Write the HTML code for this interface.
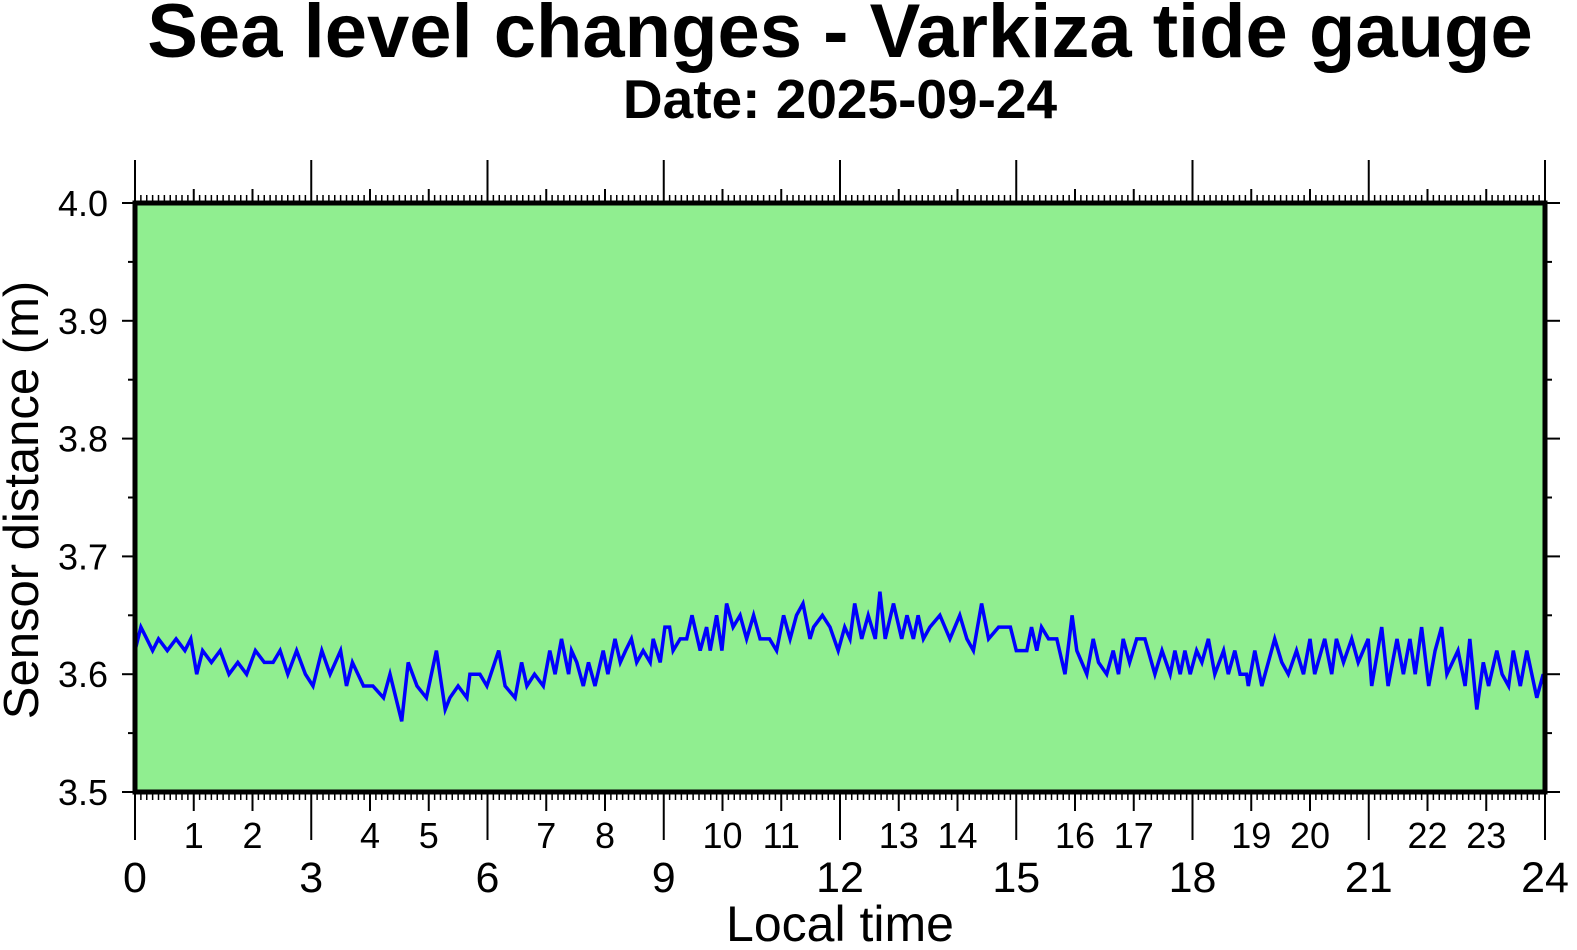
<!DOCTYPE html>
<html><head><meta charset="utf-8"><style>
html,body{margin:0;padding:0;background:#fff;}
svg{display:block;font-family:"Liberation Sans",Arial,sans-serif;}
</style></head><body>
<svg id="chart" width="1577" height="950" viewBox="0 0 1577 950" xmlns="http://www.w3.org/2000/svg">
<text x="840" y="57" font-size="76" font-weight="bold" text-anchor="middle">Sea level changes - Varkiza tide gauge</text>
<text x="840" y="118" font-size="55" font-weight="bold" text-anchor="middle">Date: 2025-09-24</text>
<rect x="135" y="203" width="1410" height="589" fill="#90ee90"/>
<g id="axes"></g>
<polyline id="series" fill="none" stroke="#0000ff" stroke-width="3.5" stroke-linejoin="miter"/>
<rect x="135" y="203" width="1410" height="589" fill="none" stroke="#000" stroke-width="5"/>
<text x="840" y="941" font-size="50" text-anchor="middle">Local time</text>
<text x="0" y="0" font-size="49" text-anchor="middle" transform="translate(38,500) rotate(-90)">Sensor distance (m)</text>
</svg>
<script>
const hours = [0,0.1,0.2,0.3,0.4,0.55,0.7,0.85,0.95,1.05,1.15,1.3,1.45,1.6,1.75,1.9,2.05,2.2,2.35,2.47,2.6,2.75,2.9,3.03,3.18,3.32,3.5,3.6,3.7,3.89,4.05,4.23,4.34,4.54,4.65,4.8,4.96,5.13,5.28,5.36,5.5,5.65,5.7,5.87,5.99,6.19,6.3,6.47,6.58,6.67,6.8,6.95,7.06,7.15,7.26,7.38,7.43,7.52,7.63,7.72,7.83,7.97,8.05,8.17,8.26,8.35,8.45,8.54,8.65,8.77,8.82,8.94,9.02,9.1,9.16,9.28,9.39,9.48,9.62,9.73,9.79,9.9,9.99,10.07,10.18,10.3,10.41,10.53,10.64,10.8,10.92,11.04,11.15,11.26,11.37,11.49,11.55,11.7,11.83,11.97,12.08,12.17,12.25,12.37,12.48,12.6,12.68,12.77,12.91,13.05,13.14,13.25,13.33,13.42,13.53,13.7,13.87,14.04,14.16,14.27,14.41,14.53,14.7,14.9,15.0,15.18,15.26,15.35,15.43,15.55,15.69,15.83,15.95,16.03,16.2,16.31,16.4,16.54,16.65,16.74,16.82,16.93,17.05,17.19,17.36,17.48,17.62,17.7,17.79,17.87,17.96,18.07,18.16,18.27,18.38,18.53,18.61,18.72,18.81,18.92,18.95,19.06,19.18,19.29,19.4,19.52,19.63,19.77,19.89,20.0,20.08,20.25,20.37,20.45,20.57,20.71,20.82,20.99,21.05,21.22,21.33,21.48,21.59,21.7,21.79,21.9,22.02,22.13,22.24,22.33,22.52,22.64,22.72,22.84,22.95,23.04,23.18,23.27,23.38,23.46,23.58,23.69,23.86,23.97,24.0];
const levels = [3.62,3.64,3.63,3.62,3.63,3.62,3.63,3.62,3.63,3.60,3.62,3.61,3.62,3.60,3.61,3.60,3.62,3.61,3.61,3.62,3.60,3.62,3.60,3.59,3.62,3.60,3.62,3.59,3.61,3.59,3.59,3.58,3.60,3.56,3.61,3.59,3.58,3.62,3.57,3.58,3.59,3.58,3.60,3.60,3.59,3.62,3.59,3.58,3.61,3.59,3.60,3.59,3.62,3.60,3.63,3.60,3.62,3.61,3.59,3.61,3.59,3.62,3.60,3.63,3.61,3.62,3.63,3.61,3.62,3.61,3.63,3.61,3.64,3.64,3.62,3.63,3.63,3.65,3.62,3.64,3.62,3.65,3.62,3.66,3.64,3.65,3.63,3.65,3.63,3.63,3.62,3.65,3.63,3.65,3.66,3.63,3.64,3.65,3.64,3.62,3.64,3.63,3.66,3.63,3.65,3.63,3.67,3.63,3.66,3.63,3.65,3.63,3.65,3.63,3.64,3.65,3.63,3.65,3.63,3.62,3.66,3.63,3.64,3.64,3.62,3.62,3.64,3.62,3.64,3.63,3.63,3.60,3.65,3.62,3.60,3.63,3.61,3.60,3.62,3.60,3.63,3.61,3.63,3.63,3.60,3.62,3.60,3.62,3.60,3.62,3.60,3.62,3.61,3.63,3.60,3.62,3.60,3.62,3.60,3.60,3.59,3.62,3.59,3.61,3.63,3.61,3.60,3.62,3.60,3.63,3.60,3.63,3.60,3.63,3.61,3.63,3.61,3.63,3.59,3.64,3.59,3.63,3.60,3.63,3.60,3.64,3.59,3.62,3.64,3.60,3.62,3.59,3.63,3.57,3.61,3.59,3.62,3.60,3.59,3.62,3.59,3.62,3.58,3.60,3.59];
const yTickLabels = ["3.5","3.6","3.7","3.8","3.9","4.0"];
const xMajorLabels = ["0","3","6","9","12","15","18","21","24"];
const xMinorLabels = ["1","2","4","5","7","8","10","11","13","14","16","17","19","20","22","23"];

const X0=135,X1=1545,Y0=792,Y1=203;
const xs = h => X0 + (h/24)*(X1-X0);
const ys = v => Y0 - (v-3.5)/0.5*(Y0-Y1);
const NS="http://www.w3.org/2000/svg";
const axes=document.getElementById('axes');
function line(x1,y1,x2,y2,w){const l=document.createElementNS(NS,'line');l.setAttribute('x1',x1);l.setAttribute('y1',y1);l.setAttribute('x2',x2);l.setAttribute('y2',y2);l.setAttribute('stroke','#000');l.setAttribute('stroke-width',w);axes.appendChild(l);return l;}
function text(x,y,s,size,anchor){const t=document.createElementNS(NS,'text');t.setAttribute('x',x);t.setAttribute('y',y);t.setAttribute('font-size',size);t.setAttribute('text-anchor',anchor);t.textContent=s;axes.appendChild(t);return t;}

for(let i=0;i<=240;i++){
  const x=xs(i/10);
  if(i%10===0) continue;
  const a=line(x,Y1-2,x,Y1-8,1.5);
  
  
  const b=line(x,Y0+2,x,Y0+8,1.5);
  
  
}
for(let h=0;h<=24;h++){
  const x=xs(h);
  const big=h%3===0;
  const a=line(x,Y1,x,big?160:189,2);
  
  
  const b=line(x,Y0,x,big?840:811,2);
  
  
}
xMajorLabels.forEach(s=>{
  const t=text(xs(+s),892,s,43,'middle');
  
  
});
xMinorLabels.forEach(s=>{
  const t=text(xs(+s),848,s,36,'middle');
  
  
});
yTickLabels.forEach(s=>{
  const y=ys(+s);
  const a=line(122,y,135,y,2);
  
  
  const b=line(1545,y,1560,y,2);
  
  
  const t=text(108,y+13,s,36,'end');
  
  
});
for(let k=0;k<5;k++){
  const y=ys(3.55+k*0.1);
  const a=line(128,y,135,y,2);
  
  
  const b=line(1545,y,1552,y,2);
  
  
}
document.getElementById('series').setAttribute('points', hours.map((h,i)=>xs(h).toFixed(1)+','+ys(levels[i]).toFixed(1)).join(' '));
</script>
</body></html>
